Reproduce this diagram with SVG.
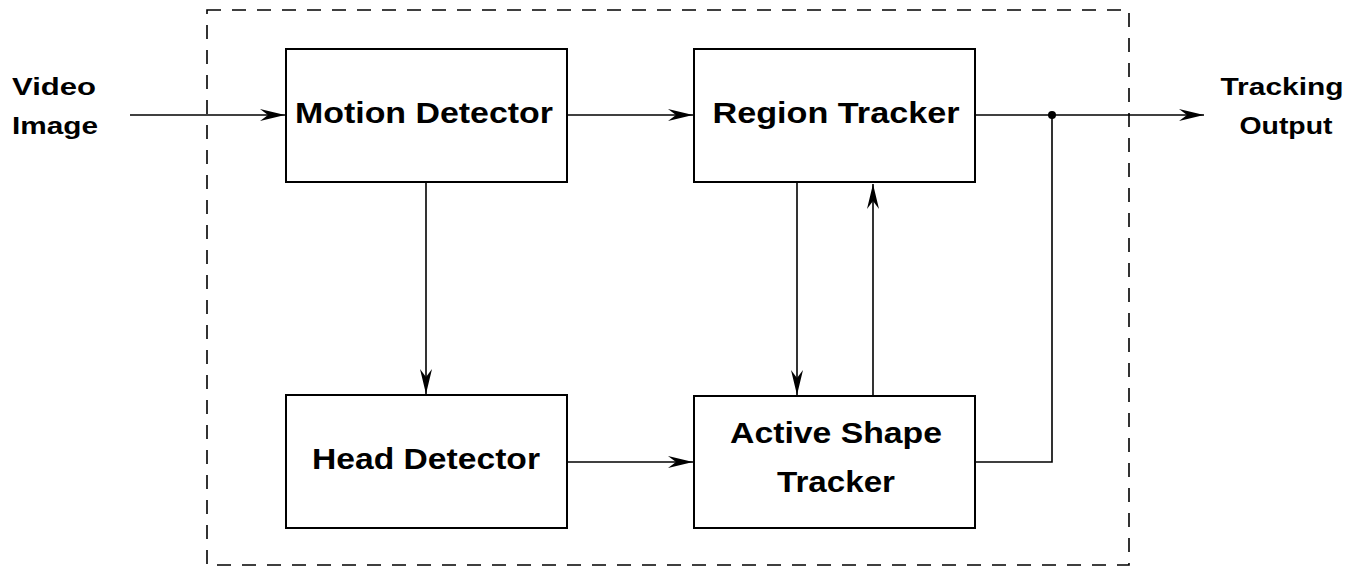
<svg xmlns="http://www.w3.org/2000/svg" width="1361" height="567" viewBox="0 0 1361 567">
<style>
.box{fill:#fff;stroke:#000;stroke-width:2}
.lbl{font-family:"Liberation Sans",Arial,sans-serif;font-weight:bold;font-size:29px;fill:#000;text-anchor:middle}
.io{font-family:"Liberation Sans",Arial,sans-serif;font-weight:bold;font-size:24px;fill:#000;text-anchor:middle}
.c{fill:none;stroke:#000;stroke-width:1.6}
.frame{fill:none;stroke:#000;stroke-width:1.6;stroke-dasharray:14 11}
</style>
<defs>
<marker id="ah" viewBox="-26 -7 27 14" markerWidth="27" markerHeight="14" refX="0" refY="0" orient="auto" markerUnits="userSpaceOnUse">
<path d="M0,0 L-25,-6 L-17,0 L-25,6 Z" fill="#000"/>
</marker>
</defs>
<rect width="1361" height="567" fill="#fff"/>
<rect class="frame" x="207" y="10" width="922" height="555"/>
<g id="connectors">
<line class="c" x1="130" y1="115" x2="285" y2="115" marker-end="url(#ah)"/>
<line class="c" x1="567" y1="115" x2="693" y2="115" marker-end="url(#ah)"/>
<line class="c" x1="975" y1="115" x2="1204" y2="115" marker-end="url(#ah)"/>
<polyline class="c" points="975,462 1052,462 1052,115"/>
<circle cx="1052" cy="115" r="4" fill="#000"/>
<line class="c" x1="426" y1="182" x2="426" y2="394" marker-end="url(#ah)"/>
<line class="c" x1="797" y1="182" x2="797" y2="395" marker-end="url(#ah)"/>
<line class="c" x1="873" y1="396" x2="873" y2="184" marker-end="url(#ah)"/>
<line class="c" x1="567" y1="462" x2="693" y2="462" marker-end="url(#ah)"/>
</g>
<g id="motion-detector">
<rect class="box" x="286" y="49" width="281" height="133"/>
<text class="lbl" x="424" y="123" textLength="258" lengthAdjust="spacingAndGlyphs">Motion Detector</text>
</g>
<g id="region-tracker">
<rect class="box" x="694" y="49" width="281" height="133"/>
<text class="lbl" x="836" y="123" textLength="247" lengthAdjust="spacingAndGlyphs">Region Tracker</text>
</g>
<g id="head-detector">
<rect class="box" x="286" y="395" width="281" height="133"/>
<text class="lbl" x="426" y="469" textLength="228" lengthAdjust="spacingAndGlyphs">Head Detector</text>
</g>
<g id="active-shape-tracker">
<rect class="box" x="694" y="396" width="281" height="132"/>
<text class="lbl" x="836" y="443" textLength="212" lengthAdjust="spacingAndGlyphs">Active Shape</text>
<text class="lbl" x="836" y="492" textLength="118" lengthAdjust="spacingAndGlyphs">Tracker</text>
</g>
<g id="video-image">
<text class="io" x="54" y="95" textLength="84" lengthAdjust="spacingAndGlyphs">Video</text>
<text class="io" x="55" y="134" textLength="86" lengthAdjust="spacingAndGlyphs">Image</text>
</g>
<g id="tracking-output">
<text class="io" x="1282" y="95" textLength="123" lengthAdjust="spacingAndGlyphs">Tracking</text>
<text class="io" x="1286" y="134" textLength="93" lengthAdjust="spacingAndGlyphs">Output</text>
</g>
</svg>
